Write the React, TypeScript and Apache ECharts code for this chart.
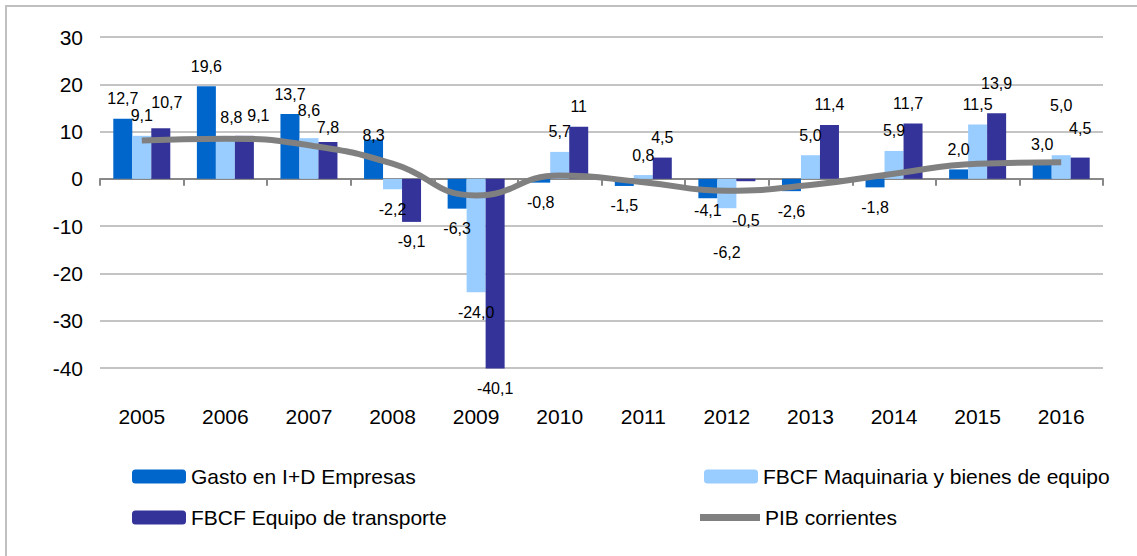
import React, { useEffect, useRef } from "react";
import * as echarts from "echarts";

const years = ["2005", "2006", "2007", "2008", "2009", "2010", "2011", "2012", "2013", "2014", "2015", "2016"];
const gasto = [12.7, 19.6, 13.7, 8.3, -6.3, -0.8, -1.5, -4.1, -2.6, -1.8, 2.0, 3.0];
const maquinaria = [9.1, 8.8, 8.6, -2.2, -24.0, 5.7, 0.8, -6.2, 5.0, 5.9, 11.5, 5.0];
const transporte = [10.7, 9.1, 7.8, -9.1, -40.1, 11, 4.5, -0.5, 11.4, 11.7, 13.9, 4.5];
const pib = [8.1, 8.5, 7.1, 3.2, -3.5, 0.7, -0.7, -2.5, -1.3, 1.1, 3.2, 3.5];

const yMin = -40;
const yMax = 30;
const yInterval = 10;

const names = {
  gasto: "Gasto en I+D Empresas",
  maq: "FBCF Maquinaria y bienes de equipo",
  trans: "FBCF Equipo de transporte",
  pib: "PIB corrientes",
};

// label nudges (pixels), kept apart from the data
const gastoOffsets: Record<number, number[]> = { 3: [0, 16], 7: [0, -8] };
const maqOffsets: Record<number, number[]> = { 1: [6, 0], 2: [0, -8], 7: [0, 24], 11: [0, -30] };
const transOffsets: Record<number, number[]> = { 0: [6, -6], 1: [14, 0], 2: [0, 6], 7: [0, 19], 9: [-5, 0], 10: [0, -10], 11: [0, -9] };
const plainLabels: Record<number, string> = { 5: "11" };

const FONT = "'Liberation Sans', Arial, Helvetica, sans-serif";
const fmt = (v: number) => v.toFixed(1).replace(".", ",");

function buildItems(values: number[], offsets: Record<number, number[]>, overrides: Record<number, string> = {}) {
  return values.map((v, i) => {
    const label: any = {
      position: v >= 0 ? "top" : "bottom",
      formatter: overrides[i] !== undefined ? overrides[i] : fmt(v),
    };
    if (offsets[i]) label.offset = offsets[i];
    return { value: v, label };
  });
}

export default function App() {
  const ref = useRef<HTMLDivElement>(null);
  useEffect(() => {
    document.body.style.margin = "0";
    if (!ref.current) return;
    const chart = echarts.init(ref.current, undefined, { renderer: "svg" });
    const barLabel = {
      show: true,
      distance: 12,
      color: "#000",
      fontSize: 16,
      fontFamily: FONT,
    };
    const barBase = {
      type: "bar",
      barWidth: 19,
      barGap: "0%",
      clip: false,
      label: barLabel,
    };
    const legendText = { fontSize: 21, lineHeight: 21, color: "#000", fontFamily: FONT };
    chart.setOption({
      animation: false,
      textStyle: { fontFamily: FONT },
      graphic: [
        {
          type: "rect",
          silent: true,
          z: -10,
          shape: { x: 6, y: 6, width: 1300, height: 700 },
          style: { fill: "none", stroke: "#c0c0c0", lineWidth: 2 },
        },
      ],
      grid: { left: 100, right: 34, top: 37, bottom: 188, containLabel: false },
      legend: [
        {
          left: 132,
          top: 466,
          padding: 0,
          orient: "vertical",
          itemWidth: 54,
          itemHeight: 14,
          itemGap: 20,
          selectedMode: false,
          textStyle: legendText,
          data: [names.gasto, names.trans],
        },
        {
          left: 704,
          top: 466,
          padding: 0,
          orient: "vertical",
          itemWidth: 54,
          itemHeight: 14,
          selectedMode: false,
          textStyle: legendText,
          data: [names.maq],
        },
        {
          left: 700,
          top: 507,
          padding: 0,
          orient: "vertical",
          itemWidth: 60,
          itemHeight: 7,
          selectedMode: false,
          textStyle: legendText,
          data: [{ name: names.pib, icon: "rect", itemStyle: { color: "#808080" } }],
        },
      ],
      xAxis: [
        {
          type: "category",
          data: years,
          position: "bottom",
          axisLine: { show: false, onZero: false },
          axisTick: { show: false },
          axisLabel: { color: "#000", fontSize: 21, margin: 38, fontFamily: FONT },
          splitLine: { show: false },
        },
        {
          type: "category",
          data: years,
          position: "bottom",
          axisLine: { show: true, onZero: true, lineStyle: { color: "#888888", width: 2 } },
          axisTick: { show: true, length: 7, lineStyle: { color: "#888888", width: 2 } },
          axisLabel: { show: false },
          splitLine: { show: false },
        },
      ],
      yAxis: {
        type: "value",
        min: yMin,
        max: yMax,
        interval: yInterval,
        axisLine: { show: false },
        axisTick: { show: false },
        axisLabel: { color: "#000", fontSize: 21, margin: 17, fontFamily: FONT },
        splitLine: { lineStyle: { color: "#c4c4c4", width: 2 } },
      },
      series: [
        {
          ...barBase,
          name: names.gasto,
          itemStyle: { color: "#0066CC" },
          data: buildItems(gasto, gastoOffsets),
        },
        {
          ...barBase,
          name: names.maq,
          itemStyle: { color: "#99CCFF" },
          data: buildItems(maquinaria, maqOffsets),
        },
        {
          ...barBase,
          name: names.trans,
          itemStyle: { color: "#333399" },
          data: buildItems(transporte, transOffsets, plainLabels),
        },
        {
          type: "line",
          name: names.pib,
          data: pib,
          smooth: true,
          symbol: "none",
          z: 5,
          lineStyle: { color: "#808080", width: 6 },
          itemStyle: { color: "#808080" },
        },
      ],
    });
    return () => chart.dispose();
  }, []);
  return <div ref={ref} style={{ width: 1137, height: 556 }} />;
}
